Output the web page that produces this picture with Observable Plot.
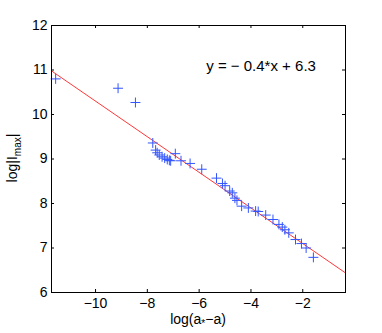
<!DOCTYPE html>
<html>
<head>
<meta charset="utf-8">
<script src="https://cdn.jsdelivr.net/npm/d3@7"></script>
<script src="https://cdn.jsdelivr.net/npm/@observablehq/plot@0.6"></script>
<style>
  html, body { margin: 0; padding: 0; background: #fff; }
  #chart svg { display: block; }
</style>
</head>
<body>
<div id="chart"></div>
<script>
// Data
const logA = [-11.54, -9.13, -8.46, -7.79, -7.68, -7.62, -7.54, -7.43, -7.33, -7.23, -7.15, -7.10, -6.92, -6.70,
  -6.35, -5.90, -5.33, -5.10, -5.00, -4.82, -4.72, -4.62, -4.54, -4.36, -4.10, -3.82, -3.72, -3.43,
  -3.15, -2.92, -2.79, -2.69, -2.54, -2.28, -2.05, -1.87, -1.59];
const logI = [10.80, 10.59, 10.27, 9.36, 9.20, 9.14, 9.09, 9.05, 9.02, 8.99, 8.97, 8.96, 9.12, 8.96,
  8.90, 8.77, 8.57, 8.45, 8.40, 8.28, 8.24, 8.12, 8.07, 7.94, 7.90, 7.83, 7.82, 7.74,
  7.64, 7.53, 7.47, 7.41, 7.34, 7.19, 7.10, 7.00, 6.79];
const fitSlope = -0.4;
const fitIntercept = 6.3;
const fitLabel = "y = \u2212 0.4*x + 6.3";
const xDomain = [-11.7, -0.35];
const yDomain = [6, 12];
const xTicks = [-10, -8, -6, -4, -2];
const yTicks = [6, 7, 8, 9, 10, 11, 12];

const points = logA.map((x, i) => ({x, y: logI[i]}));
const fitLine = xDomain.map(x => ({x, y: fitSlope * x + fitIntercept}));

const W = 382, H = 333;
const mL = 51, mR = 37, mT = 25, mB = 41;
const plotH = H - mT - mB, plotW = W - mL - mR;
const tl = 3;
const font = "Liberation Sans, Arial, Helvetica, sans-serif";

const chart = Plot.plot({
  width: W, height: H,
  marginLeft: mL, marginRight: mR, marginTop: mT, marginBottom: mB,
  style: {fontFamily: font, fontSize: "14px", background: "#fff", color: "#000"},
  x: {domain: xDomain, label: null},
  y: {domain: yDomain, label: null},
  marks: [
    Plot.axisX({ticks: xTicks, tickSize: 0, tickPadding: 6, fontSize: 14, label: null}),
    Plot.axisY({ticks: yTicks, tickSize: 0, tickPadding: 4, fontSize: 14, label: null, tickFormat: d3.format("d")}),
    // inward ticks on all four sides
    Plot.tickX(xTicks, {x: d => d, insetTop: plotH - tl, stroke: "#000"}),
    Plot.tickX(xTicks, {x: d => d, insetBottom: plotH - tl, stroke: "#000"}),
    Plot.tickY(yTicks, {y: d => d, insetRight: plotW - tl, stroke: "#000"}),
    Plot.tickY(yTicks, {y: d => d, insetLeft: plotW - tl, stroke: "#000"}),
    Plot.line(fitLine, {x: "x", y: "y", stroke: "#ff2020", strokeWidth: 0.9}),
    Plot.dot(points, {x: "x", y: "y", symbol: "plus", r: 3.3, stroke: "#3355ff", strokeWidth: 1}),
    Plot.text([fitLabel], {x: -3.61, y: 11.08, text: d => d, fontSize: 15, textAnchor: "middle", fill: "#000"}),
    Plot.frame({stroke: "#000", strokeWidth: 1})
  ]
});

const svg = d3.select(chart);
// x label with subscript
const xl = svg.append("text")
  .attr("x", 198).attr("y", 324)
  .attr("text-anchor", "middle")
  .attr("font-family", font).attr("font-size", 14).attr("fill", "#000");
xl.append("tspan").text("log(a");
xl.append("tspan").attr("font-size", 10).attr("dy", 3).text("*");
xl.append("tspan").attr("dy", -3).text("\u2212a)");
// y label with subscript
const yl = svg.append("text")
  .attr("transform", "translate(17,158) rotate(-90)")
  .attr("text-anchor", "middle")
  .attr("font-family", font).attr("font-size", 14).attr("fill", "#000");
yl.append("tspan").text("log|I");
yl.append("tspan").attr("font-size", 10).attr("dy", 4).text("max");
yl.append("tspan").attr("dy", -4).text("|");

document.getElementById("chart").appendChild(chart);
</script>
</body>
</html>
